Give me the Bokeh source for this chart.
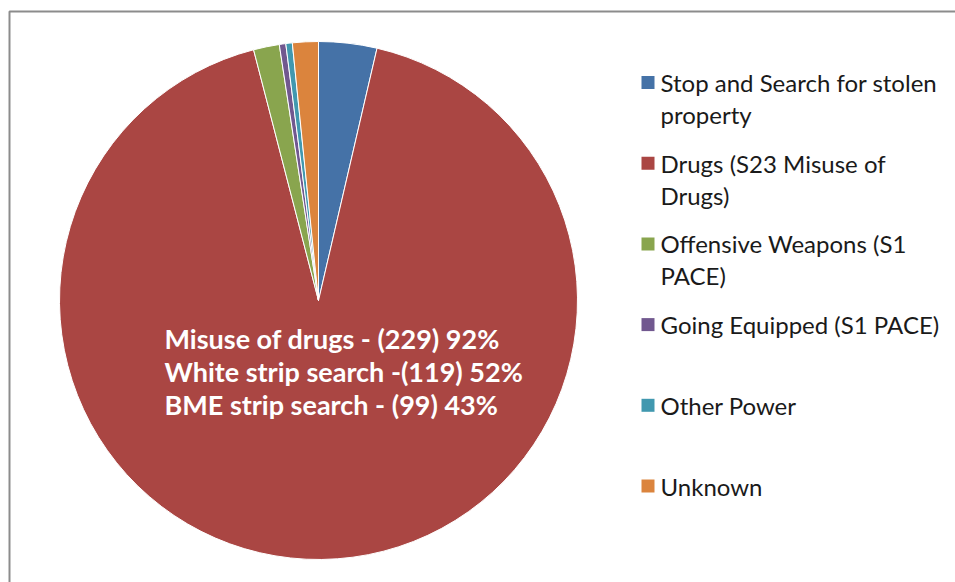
import math
from bokeh.plotting import figure
from bokeh.models import ColumnDataSource, Range1d
from bokeh.core.properties import value
from bokeh.embed import file_html
from bokeh.resources import INLINE

# ---- data ----
categories = ["Stop and Search for stolen\nproperty",
              "Drugs (S23 Misuse of\nDrugs)",
              "Offensive Weapons (S1\nPACE)",
              "Going Equipped (S1 PACE)",
              "Other Power",
              "Unknown"]
counts = [9, 229, 4, 1, 1, 4]
colors = ["#4572A7", "#AA4643", "#89A54E", "#71588F", "#4198AF", "#DB843D"]
annotation_lines = ["Misuse of drugs  - (229) 92%",
                    "White strip search -(119) 52%",
                    "BME strip search - (99) 43%"]

# ---- layout (picture pixel coordinates) ----
W, H = 955, 582


def py(y):  # picture y -> data y
    return H - y


p = figure(width=W, height=H, output_backend="svg", toolbar_location=None,
           x_range=Range1d(0, W), y_range=Range1d(0, H),
           min_border=0)
p.axis.visible = False
p.grid.visible = False
p.outline_line_color = None
p.background_fill_color = "white"
p.border_fill_color = "white"

# chart frame
p.quad(left=[9], right=[1200], top=[py(11)], bottom=[-50],
       fill_color=None, line_color="#8c8c8c", line_width=2)

# pie
total = sum(counts)
starts, ends = [], []
cum = 0
for c in counts:
    starts.append(math.pi / 2 - 2 * math.pi * cum / total)
    cum += c
    ends.append(math.pi / 2 - 2 * math.pi * cum / total)
src = ColumnDataSource(dict(start=starts, end=ends, color=colors))
p.wedge(x=318, y=py(300), radius=259, start_angle="start", end_angle="end",
        direction="clock", fill_color="color", line_color="white",
        line_width=1, source=src)

# annotation inside pie
ax, ay, al = [], [], []
for i, t in enumerate(annotation_lines):
    ax.append(164)
    ay.append(py(338 + i * 33))
    al.append(t)
p.text(x=ax, y=ay, text=al, text_color="white", text_font=value("Lato"),
       text_font_style="bold", text_font_size="27px", text_baseline="alphabetic")

# legend
sq_x, sq_y, sq_c = [], [], []
lx, ly, lt = [], [], []
for i, (lab, col) in enumerate(zip(categories, colors)):
    yc = 82 + i * 80.7
    sq_x.append(647.5)
    sq_y.append(py(yc))
    sq_c.append(col)
    for j, line in enumerate(lab.split("\n")):
        lx.append(660)
        ly.append(py(yc + j * 32))
        lt.append(line)
p.rect(x=sq_x, y=sq_y, width=13, height=13, fill_color=sq_c, line_color=None)
p.text(x=lx, y=ly, text=lt, text_color="#1a1a1a", text_font=value("Lato"),
       text_font_size="24px", text_baseline="middle")

open("out.html", "w").write(file_html(p, INLINE))
